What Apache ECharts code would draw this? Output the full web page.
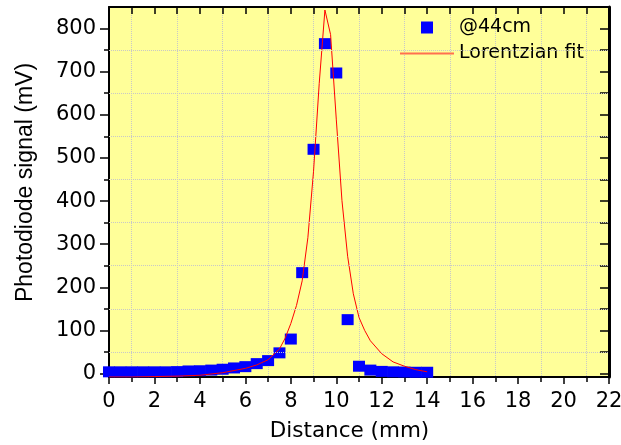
<!DOCTYPE html>
<html>
<head>
<meta charset="utf-8">
<script src="https://cdn.jsdelivr.net/npm/echarts@6/dist/echarts.min.js"></script>
<style>
  html, body { margin: 0; padding: 0; background: #fff; }
  #chart { width: 621px; height: 445px; }
</style>
</head>
<body>
<div id="chart"></div>
<script>
// measured points (@44cm)
const distance = [0, 0.5, 1, 1.5, 2, 2.5, 3, 3.5, 4, 4.5, 5, 5.5, 6, 6.5, 7, 7.5, 8, 8.5, 9, 9.5, 10, 10.5, 11, 11.5, 12, 12.5, 13, 13.5, 14];
const signal44 = [4, 4, 4, 4, 4, 4, 4.5, 6, 6.5, 8, 10, 13, 16, 23, 30, 48, 80, 234, 520, 765, 697, 125, 17, 8, 5, 4, 3.5, 3, 3];

// fit curve
const fitX = [0, 1, 2, 3, 4, 5, 5.5, 6, 6.5, 7, 7.5, 7.75, 8, 8.25, 8.5, 8.75, 9, 9.25, 9.5, 9.75, 10, 10.25, 10.5, 10.75, 11, 11.25, 11.5, 12, 12.5, 13, 13.5, 14];
const fitY = [-8, -8, -7, -6, -4, 2, 7, 12, 20, 32, 57, 82, 116, 158, 215, 315, 469, 673, 843, 786, 590, 401, 272, 185, 130, 100, 76, 46, 27, 17, 9, 4];

// tick values
const yMajorTicks = [0, 100, 200, 300, 400, 500, 600, 700, 800];
const yMinorTicks = [50, 150, 250, 350, 450, 550, 650, 750];
const yRightTicks = [0, 50, 100, 150, 200, 250, 300, 350, 400, 450, 500, 550, 600, 650, 700, 750, 800];

const font = "DejaVu Sans";
const black = "#000";
const gridColor = "#c8c8c8";

const chart = echarts.init(document.getElementById("chart"));

const option = {
  backgroundColor: "#fff",
  animation: false,
  grid: {
    left: 109, right: 12, top: 7, bottom: 68,
    containLabel: false, outerBoundsMode: "none",
    show: true, backgroundColor: "#ffff99", borderWidth: 0
  },
  legend: {
    orient: "vertical",
    left: 400, top: 18, padding: 0,
    itemWidth: 54, itemHeight: 12, itemGap: 7,
    textStyle: { fontFamily: font, fontSize: 19, color: black },
    data: [
      { name: "@44cm", icon: "path://M0,0H12V12H0Z", itemStyle: { color: "#0000ff" } },
      { name: "Lorentzian fit", icon: "path://M0,0H54V2H0Z", itemStyle: { color: "#ff7050" } }
    ]
  },
  xAxis: [
    {
      type: "value", position: "bottom",
      min: 0, max: 22, interval: 2,
      axisLine: { onZero: false, lineStyle: { color: black, width: 2 } },
      axisTick: { length: 7, lineStyle: { color: black, width: 1.5 } },
      minorTick: { show: true, splitNumber: 2, length: 5, lineStyle: { color: black, width: 1.5 } },
      splitLine: { show: false },
      minorSplitLine: { show: true, lineStyle: { color: gridColor, type: "dotted", width: 1 } },
      axisLabel: { fontFamily: font, fontSize: 21, color: black, margin: 14 },
      name: "Distance (mm)", nameLocation: "middle", nameGap: 43,
      nameTextStyle: { fontFamily: font, fontSize: 21.5, color: black, padding: [0, 19, 0, 0] }
    },
    {
      type: "value", position: "top",
      min: 0, max: 22, interval: 1,
      axisLine: { onZero: false, lineStyle: { color: black, width: 2 } },
      axisTick: { inside: true, length: 7, lineStyle: { color: black, width: 1.5 } },
      axisLabel: { show: false },
      splitLine: { show: false }
    }
  ],
  yAxis: [
    {
      type: "value", position: "left",
      min: -8, max: 850,
      axisLine: { show: true, onZero: false, lineStyle: { color: black, width: 2 } },
      axisTick: { show: true, length: 9, customValues: yMajorTicks, lineStyle: { color: black, width: 1.5 } },
      axisLabel: { fontFamily: font, fontSize: 21, color: black, margin: 13, customValues: yMajorTicks },
      splitLine: { show: false },
      name: "Photodiode signal (mV)", nameLocation: "middle", nameGap: 72,
      nameTextStyle: { fontFamily: "Liberation Sans", fontSize: 23, color: black, padding: [0, 0, 0, 19] }
    },
    {
      type: "value", position: "right",
      min: -8, max: 850,
      axisLine: { show: true, onZero: false, lineStyle: { color: black, width: 3 } },
      axisTick: { show: true, inside: true, length: 9, customValues: yRightTicks, lineStyle: { color: black, width: 1.5 } },
      axisLabel: { show: false },
      splitLine: { show: false }
    },
    {
      type: "value", position: "left",
      min: -8, max: 850,
      axisLine: { show: false, onZero: false },
      axisTick: { show: true, length: 5, customValues: yMinorTicks, lineStyle: { color: black, width: 1.5 } },
      axisLabel: { show: false },
      splitLine: { show: false }
    }
  ],
  series: [
    {
      // horizontal dotted grid at the minor ticks
      name: "grid", type: "line", data: [], z: 1, silent: true,
      markLine: {
        silent: true, symbol: "none", label: { show: false },
        lineStyle: { color: gridColor, type: "dotted", width: 1 },
        data: yMinorTicks.map((v) => ({ yAxis: v }))
      }
    },
    {
      name: "@44cm", type: "scatter", z: 3,
      symbol: "rect", symbolSize: [12, 11],
      itemStyle: { color: "#0000ff", opacity: 1 },
      data: distance.map((x, i) => [x, signal44[i]])
    },
    {
      name: "Lorentzian fit", type: "line", z: 4,
      symbol: "none", smooth: false,
      lineStyle: { color: "#ff0000", width: 1 },
      data: fitX.map((x, i) => [x, fitY[i]])
    }
  ]
};

chart.setOption(option);
</script>
</body>
</html>
